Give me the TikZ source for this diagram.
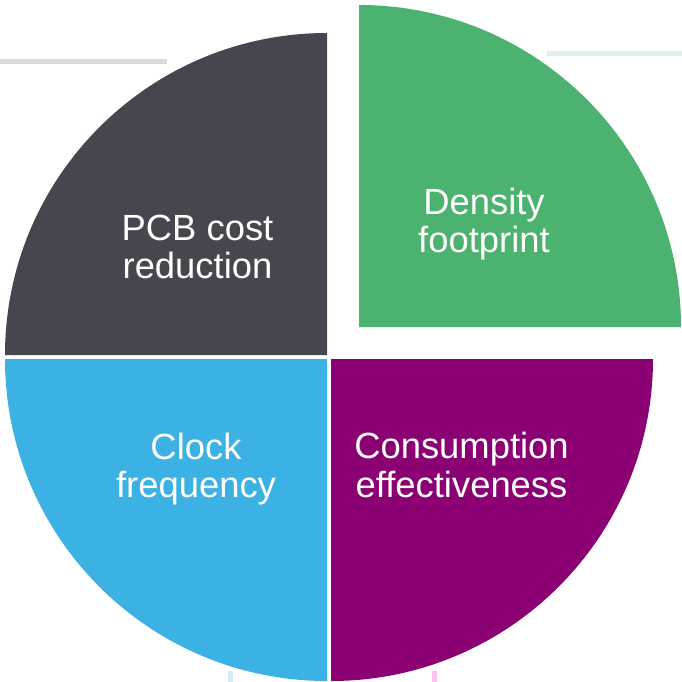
\documentclass[tikz,border=0pt]{standalone}
\usepackage{fontspec}
\setmainfont{Liberation Sans}
\usepackage{tikz}

\definecolor{pcbgray}{HTML}{46464F}
\definecolor{densgreen}{HTML}{4BB270}
\definecolor{clockblue}{HTML}{3CB2E4}
\definecolor{consviolet}{HTML}{8B0073}
\definecolor{faintgray}{HTML}{DADADF}
\definecolor{faintgreen}{HTML}{DDF2E4}
\definecolor{faintblue}{HTML}{D5ECF8}
\definecolor{faintpink}{HTML}{FFC2F0}

\tikzset{
  quarter/.style = {text = white, align = center, inner sep = 0pt,
    font = \fontsize{27.3}{28.6}\selectfont}
}

\begin{document}
\begin{tikzpicture}[x = 0.75pt, y = -0.75pt]
\useasboundingbox (0,0) rectangle (682,682);
% the four quarters
\fill [pcbgray] (327,355) -- (5,355) arc [start angle = 180, end angle = 270, radius = 322] -- cycle;
\fill [clockblue] (327,359) -- (5,359) arc [start angle = 180, end angle = 90, radius = 322] -- cycle;
\fill [consviolet] (331,359) -- (653,359) arc [start angle = 0, end angle = 90, radius = 322] -- cycle;
\fill [densgreen] (359,327) -- (681,327) arc [start angle = 0, end angle = -90, radius = 322] -- cycle;
% faint marks
\fill [faintgray] (0,59) rectangle (166.5,64);
\fill [faintgreen] (547,51) rectangle (682,55.5);
\fill [faintblue] (228,671) rectangle (233,682);
\fill [faintpink] (432,671) rectangle (437,682);
% labels
\node [quarter] (pcb) at (197.5,247) {PCB cost\\reduction};
\node [quarter] (density) at (484,224) {Density\\footprint};
\node [quarter] (clock) at (196,469) {Clock\\frequency};
\node [quarter] (consumption) at (461.5,465) {Consumption\\effectiveness};
\end{tikzpicture}
\end{document}
